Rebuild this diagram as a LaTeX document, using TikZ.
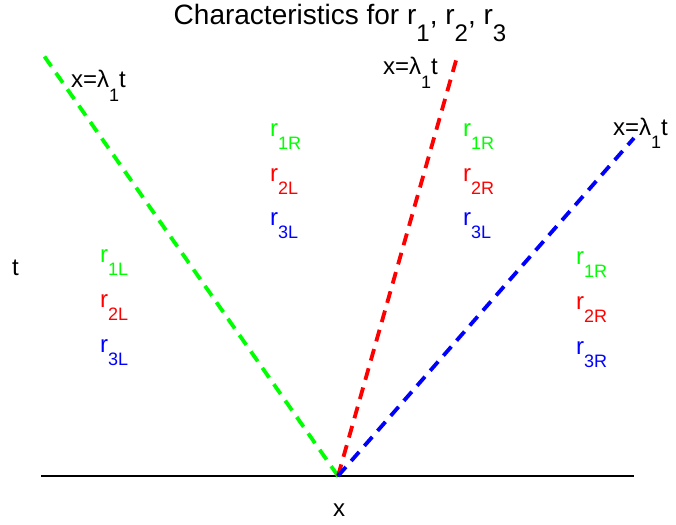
\documentclass[tikz,border=0pt]{standalone}
\usepackage{fontspec}
\setmainfont{Liberation Sans}
\definecolor{chargreen}{RGB}{0,255,0}
\definecolor{charred}{RGB}{255,0,0}
\definecolor{charblue}{RGB}{0,0,255}
\newcommand{\lowsub}[1]{\raisebox{-0.55em}{\fontsize{18}{18}\selectfont #1}}
\newcommand{\titlesub}[1]{\raisebox{-0.6em}{\fontsize{24}{24}\selectfont #1}}

\begin{document}
\begin{tikzpicture}[x=1pt, y=-1pt,
    charline/.style={line width=3.8pt, dash pattern=on 12pt off 8pt},
    lbl/.style={anchor=base west, inner sep=0pt, font=\fontsize{24}{24}\selectfont}]
  \useasboundingbox (0,0) rectangle (676,524);
  % fan of characteristics out of one point on the x axis
  \coordinate (origin) at (338,476);
  \coordinate (axleft) at (41,476);
  \coordinate (axright) at (634,476);
  \coordinate (gtop) at (42,53);
  \coordinate (rtop) at (457,57);
  \coordinate (btop) at (634,138);
  \draw[line width=1.2pt] (axleft) -- (axright);
  \draw[charline, chargreen] (origin) -- (gtop);
  \draw[charline, charred] (origin) -- (rtop);
  \draw[charline, charblue] (origin) -- (btop);

  \node[anchor=base, inner sep=0pt, font=\fontsize{28}{28}\selectfont] (title) at (340,25)
    {Characteristics for r\titlesub{1}, r\titlesub{2}, r\titlesub{3}};
  \node[lbl] (xlab) at (333,516) {x};
  \node[lbl] (tlab) at (12,275) {t};

  % characteristic labels
  \node[lbl] (gline) at (71,88) {x=λ\lowsub{1}t};
  \node[lbl] (rline) at (383,75) {x=λ\lowsub{1}t};
  \node[lbl] (bline) at (613,135) {x=λ\lowsub{1}t};

  % states in the four regions
  \node[lbl, chargreen] (aone) at (100,262) {r\lowsub{1L}};
  \node[lbl, charred] (atwo) at (100,307) {r\lowsub{2L}};
  \node[lbl, charblue] (athree) at (100,352) {r\lowsub{3L}};

  \node[lbl, chargreen] (bone) at (270,136) {r\lowsub{1R}};
  \node[lbl, charred] (btwo) at (270,181) {r\lowsub{2L}};
  \node[lbl, charblue] (bthree) at (270,225) {r\lowsub{3L}};

  \node[lbl, chargreen] (cone) at (463,136) {r\lowsub{1R}};
  \node[lbl, charred] (ctwo) at (463,181) {r\lowsub{2R}};
  \node[lbl, charblue] (cthree) at (463,225) {r\lowsub{3L}};

  \node[lbl, chargreen] (done) at (576,264) {r\lowsub{1R}};
  \node[lbl, charred] (dtwo) at (576,309) {r\lowsub{2R}};
  \node[lbl, charblue] (dthree) at (576,354) {r\lowsub{3R}};
\end{tikzpicture}
\end{document}
